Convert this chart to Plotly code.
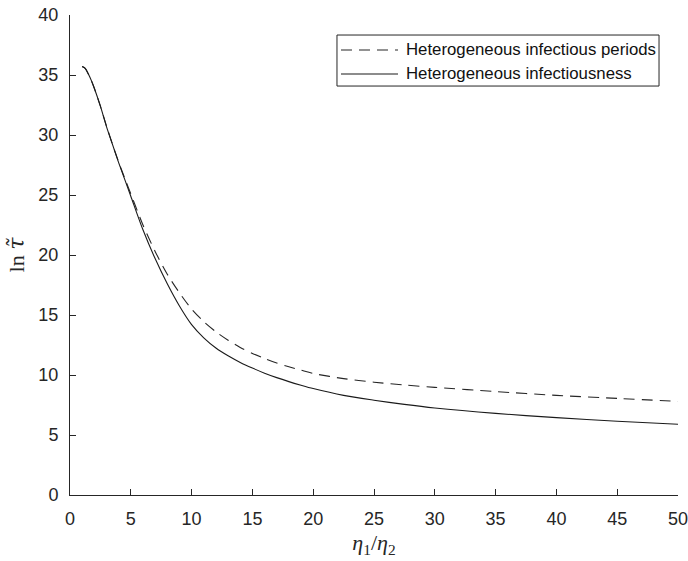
import plotly.graph_objects as go

# Data
ratio = [1, 1.25, 1.5, 1.75, 2, 2.5, 3, 3.5, 4, 4.5, 5, 6, 7, 8, 9, 10, 11, 12, 13,
         14, 15, 16, 17, 18, 19, 20, 22.5, 25, 27.5, 30, 35, 40, 45, 50]
het_periods = [35.7, 35.55, 35.1, 34.55, 33.9, 32.4, 30.75, 29.2, 27.75, 26.4, 25.1,
               22.5, 20.3, 18.4, 16.85, 15.5, 14.45, 13.6, 12.9, 12.3, 11.8,
               11.38, 11.0, 10.68, 10.4, 10.13, 9.7, 9.4, 9.17, 8.97, 8.62, 8.3,
               8.05, 7.8]
het_infectiousness = [35.7, 35.55, 35.1, 34.55, 33.9, 32.4, 30.7, 29.2, 27.7, 26.3,
                      24.9, 22.1, 19.7, 17.6, 15.75, 14.2, 13.1, 12.25, 11.6, 11.05,
                      10.58, 10.15, 9.78, 9.45, 9.15, 8.87, 8.3, 7.9, 7.55, 7.25, 6.8,
                      6.45, 6.15, 5.9]
series_names = ["Heterogeneous infectious periods", "Heterogeneous infectiousness"]
x_ticks = list(range(0, 51, 5))
y_ticks = list(range(0, 41, 5))

INK = "#262626"
DASH = "11px,7px"

fig = go.Figure()
fig.add_trace(go.Scatter(x=ratio, y=het_periods, mode="lines", name=series_names[0],
                         line=dict(color=INK, width=1.1, dash=DASH, shape="spline",
                                   smoothing=0.8)))
fig.add_trace(go.Scatter(x=ratio, y=het_infectiousness, mode="lines", name=series_names[1],
                         line=dict(color="#1a1a1a", width=1.1, shape="spline",
                                   smoothing=0.8)))

axis_common = dict(showgrid=False, zeroline=False, showline=True, linecolor=INK,
                   linewidth=1, ticks="inside", ticklen=6, tickcolor=INK,
                   automargin=False, ticklabeloverflow="allow",
                   tickfont=dict(family="Liberation Sans, Arial", size=18, color=INK))

title_font = dict(family="Liberation Serif, DejaVu Serif", size=22, color=INK)

# Hand-built legend box (paper coordinates)
lx0, lx1, ly0, ly1 = 0.4391, 0.9688, 0.852, 0.9583
row_y = [0.9271, 0.8771]
line_x0, line_x1, text_x = 0.4457, 0.5395, 0.549
shapes = [dict(type="rect", xref="paper", yref="paper", x0=lx0, x1=lx1, y0=ly0, y1=ly1,
               line=dict(color=INK, width=1), fillcolor="white", layer="above")]
shapes.append(dict(type="line", xref="paper", yref="paper", x0=line_x0, x1=line_x1,
                   y0=row_y[0], y1=row_y[0], line=dict(color=INK, width=1.1, dash=DASH),
                   layer="above"))
shapes.append(dict(type="line", xref="paper", yref="paper", x0=line_x0, x1=line_x1,
                   y0=row_y[1], y1=row_y[1], line=dict(color="#1a1a1a", width=1.1),
                   layer="above"))
annotations = [dict(xref="paper", yref="paper", x=text_x, y=row_y[i], xanchor="left",
                    yanchor="middle", text=series_names[i], showarrow=False,
                    font=dict(family="Liberation Sans, Arial", size=16.8, color="#111111"))
               for i in range(2)]

fig.update_layout(
    width=688, height=561,
    margin=dict(l=70, r=10, t=15, b=66),
    paper_bgcolor="white", plot_bgcolor="white",
    xaxis=dict(range=[0, 50], tickvals=x_ticks, ticklabelstandoff=7,
               title=dict(text="<i>η</i><sub>1</sub>/<i>η</i><sub>2</sub>",
                          font=title_font, standoff=7),
               **axis_common),
    yaxis=dict(range=[0, 40], tickvals=y_ticks, ticklabelstandoff=7,
               title=dict(text="ln <i><span style='font-family:DejaVu Serif'>τ̃</span></i>",
                          font=title_font, standoff=7),
               **axis_common),
    shapes=shapes,
    annotations=annotations,
    showlegend=False,
)

fig.write_html("out.html", config={"displayModeBar": False, "staticPlot": True},
               post_script="document.body.style.margin='0';document.body.style.padding='0';"
                           "document.body.style.overflow='hidden';")
